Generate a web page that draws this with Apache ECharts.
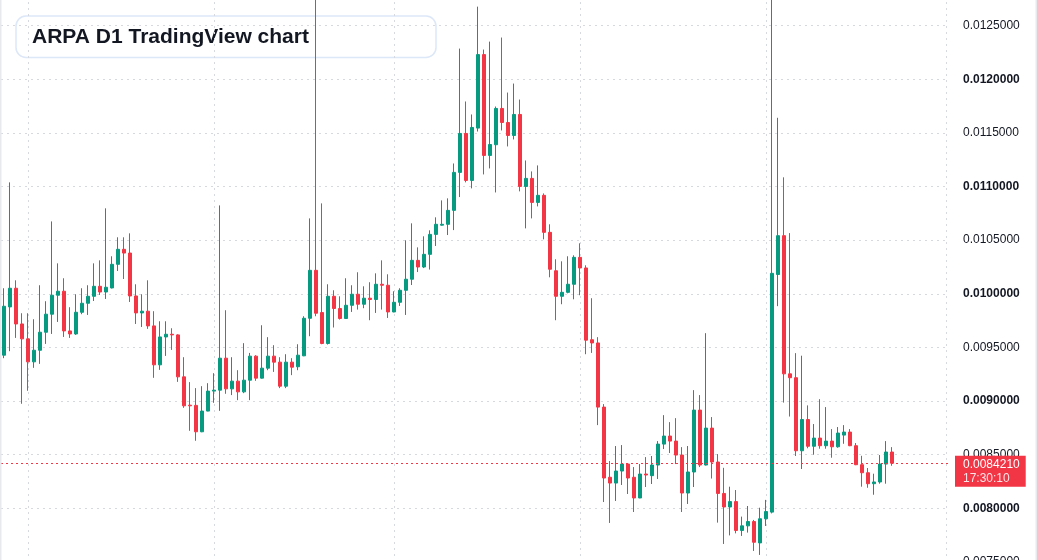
<!DOCTYPE html>
<html>
<head>
<meta charset="utf-8">
<title>ARPA D1 TradingView chart</title>
<script src="https://cdn.jsdelivr.net/npm/echarts@6/dist/echarts.min.js"></script>
<style>
  html, body { margin: 0; padding: 0; background: #ffffff; }
  #chart { width: 1037px; height: 560px; }
</style>
</head>
<body>
<div id="chart"></div>
<script>
// daily candles, first one on 2024-04-27; axis has a few empty days on the right
var startDate = '2024-04-27';
var dayCount = 158;

var opens = [
  0.009428, 0.009878, 0.010052, 0.009719, 0.009580, 0.009366, 0.009474, 0.009642, 0.009810, 0.009987,
  0.010024, 0.009654, 0.009626, 0.009828, 0.009912, 0.009977, 0.010070, 0.010017, 0.010055, 0.010275,
  0.010415, 0.010380, 0.009980, 0.009822, 0.009838, 0.009701, 0.009338, 0.009598, 0.009623, 0.009617,
  0.009226, 0.008962, 0.008960, 0.008714, 0.008907, 0.009093, 0.009102, 0.009400, 0.009114, 0.009186,
  0.009086, 0.009195, 0.009419, 0.009214, 0.009307, 0.009419, 0.009363, 0.009139, 0.009363, 0.009320,
  0.009422, 0.009772, 0.010219, 0.009825, 0.009537, 0.009977, 0.009863, 0.009770, 0.009893, 0.009996,
  0.009903, 0.009959, 0.009947, 0.010089, 0.010080, 0.009831, 0.009921, 0.010033, 0.010136, 0.010312,
  0.010250, 0.010368, 0.010554, 0.010640, 0.010648, 0.010778, 0.011132, 0.011495, 0.011057, 0.011545,
  0.012230, 0.011290, 0.011390, 0.011728, 0.011597, 0.011476, 0.011672, 0.011001, 0.011076, 0.010852,
  0.010918, 0.010573, 0.010215, 0.009977, 0.010014, 0.010089, 0.010340, 0.010241, 0.009572, 0.009542,
  0.008944, 0.008290, 0.008236, 0.008348, 0.008413, 0.008290, 0.008097, 0.008320, 0.008305, 0.008404,
  0.008599, 0.008674, 0.008627, 0.008497, 0.008143, 0.008339, 0.008916, 0.008404, 0.008748, 0.008432,
  0.008139, 0.008013, 0.008063, 0.007794, 0.007837, 0.007877, 0.007678, 0.007903, 0.007965, 0.010180,
  0.010542, 0.009254, 0.009218, 0.008537, 0.008828, 0.008579, 0.008655, 0.008584, 0.008627, 0.008574,
  0.008683, 0.008711, 0.008584, 0.008407, 0.008332, 0.008230, 0.008246, 0.008413, 0.008525
];

var closes = [
  0.009884, 0.010052, 0.009719, 0.009580, 0.009366, 0.009474, 0.009642, 0.009810, 0.009987, 0.010024,
  0.009654, 0.009626, 0.009828, 0.009912, 0.009977, 0.010070, 0.010017, 0.010061, 0.010275, 0.010415,
  0.010380, 0.009980, 0.009822, 0.009838, 0.009701, 0.009338, 0.009598, 0.009623, 0.009617, 0.009226,
  0.008956, 0.008956, 0.008714, 0.008907, 0.009093, 0.009102, 0.009400, 0.009114, 0.009186, 0.009086,
  0.009195, 0.009419, 0.009214, 0.009307, 0.009419, 0.009363, 0.009139, 0.009363, 0.009316, 0.009428,
  0.009772, 0.010219, 0.009819, 0.009537, 0.009977, 0.009863, 0.009770, 0.009893, 0.009996, 0.009903,
  0.009959, 0.009947, 0.010089, 0.010080, 0.009831, 0.009921, 0.010033, 0.010136, 0.010312, 0.010250,
  0.010368, 0.010554, 0.010648, 0.010648, 0.010778, 0.011132, 0.011495, 0.011057, 0.011551, 0.012230,
  0.011290, 0.011392, 0.011728, 0.011597, 0.011476, 0.011672, 0.011001, 0.011076, 0.010852, 0.010918,
  0.010573, 0.010229, 0.009977, 0.010014, 0.010089, 0.010340, 0.010241, 0.009568, 0.009542, 0.008944,
  0.008283, 0.008236, 0.008348, 0.008413, 0.008283, 0.008097, 0.008320, 0.008311, 0.008404, 0.008599,
  0.008674, 0.008627, 0.008497, 0.008143, 0.008339, 0.008916, 0.008404, 0.008748, 0.008432, 0.008139,
  0.008013, 0.008063, 0.007794, 0.007837, 0.007877, 0.007684, 0.007903, 0.007970, 0.010191, 0.010542,
  0.009254, 0.009218, 0.008537, 0.008828, 0.008579, 0.008655, 0.008584, 0.008627, 0.008574, 0.008702,
  0.008711, 0.008584, 0.008407, 0.008332, 0.008230, 0.008246, 0.008413, 0.008525, 0.008421
];

var lows = [
  0.009400, 0.009465, 0.009589, 0.008975, 0.009096, 0.009310, 0.009347, 0.009533, 0.009626, 0.009738,
  0.009598, 0.009589, 0.009617, 0.009810, 0.009803, 0.009933, 0.009989, 0.009952, 0.010050, 0.010213,
  0.010138, 0.009924, 0.009719, 0.009691, 0.009673, 0.009217, 0.009291, 0.009421, 0.009477, 0.009179,
  0.008937, 0.008723, 0.008630, 0.008710, 0.008905, 0.008984, 0.008909, 0.009068, 0.009056, 0.009009,
  0.009074, 0.009009, 0.009189, 0.009210, 0.009288, 0.009272, 0.009121, 0.009121, 0.009242, 0.009288,
  0.009419, 0.009605, 0.009791, 0.009530, 0.009527, 0.009686, 0.009760, 0.009765, 0.009831, 0.009853,
  0.009866, 0.009754, 0.009822, 0.009853, 0.009775, 0.009828, 0.009887, 0.009803, 0.010082, 0.010203,
  0.010240, 0.010226, 0.010446, 0.010635, 0.010548, 0.010594, 0.010902, 0.011039, 0.010983, 0.011513,
  0.011113, 0.011169, 0.010945, 0.011523, 0.011374, 0.011439, 0.010955, 0.010610, 0.010703, 0.010815,
  0.010508, 0.010154, 0.009754, 0.009903, 0.010005, 0.009949, 0.009987, 0.009437, 0.009449, 0.008776,
  0.008059, 0.007864, 0.008069, 0.008218, 0.008134, 0.007966, 0.008095, 0.008199, 0.008227, 0.008274,
  0.008553, 0.008516, 0.008413, 0.007966, 0.008041, 0.008199, 0.008385, 0.008400, 0.008278, 0.007867,
  0.007668, 0.007748, 0.007767, 0.007743, 0.007774, 0.007603, 0.007566, 0.007836, 0.007953, 0.009885,
  0.008986, 0.008856, 0.008488, 0.008367, 0.008560, 0.008500, 0.008556, 0.008556, 0.008472, 0.008565,
  0.008602, 0.008580, 0.008403, 0.008202, 0.008192, 0.008127, 0.008230, 0.008230, 0.008397
];

var highs = [
  0.010052, 0.011039, 0.010126, 0.009819, 0.009819, 0.009763, 0.010080, 0.009931, 0.010675, 0.010284,
  0.010145, 0.009875, 0.009996, 0.010052, 0.010080, 0.010284, 0.010312, 0.010797, 0.010350, 0.010527,
  0.010527, 0.010564, 0.010089, 0.009996, 0.010126, 0.009838, 0.009744, 0.009744, 0.009679, 0.009623,
  0.009409, 0.009177, 0.009121, 0.009139, 0.009167, 0.009260, 0.010824, 0.009847, 0.009409, 0.009288,
  0.009540, 0.009449, 0.009428, 0.009707, 0.009596, 0.009521, 0.009409, 0.009437, 0.009400, 0.009530,
  0.009791, 0.010703, 0.012950, 0.010843, 0.010089, 0.010033, 0.009977, 0.010145, 0.010080, 0.010201,
  0.010070, 0.010108, 0.010191, 0.010312, 0.010182, 0.010024, 0.010052, 0.010499, 0.010657, 0.010433,
  0.010536, 0.010592, 0.010713, 0.010871, 0.010890, 0.011215, 0.012286, 0.011793, 0.011672, 0.012677,
  0.012277, 0.012351, 0.011746, 0.012389, 0.011876, 0.011960, 0.011811, 0.011243, 0.011141, 0.011197,
  0.010936, 0.010648, 0.010322, 0.010303, 0.010350, 0.010359, 0.010471, 0.010266, 0.009959, 0.009596,
  0.008972, 0.008441, 0.008581, 0.008590, 0.008423, 0.008385, 0.008413, 0.008478, 0.008488, 0.008627,
  0.008869, 0.008804, 0.008841, 0.008571, 0.008581, 0.009102, 0.009056, 0.009633, 0.008851, 0.008506,
  0.008378, 0.008202, 0.008171, 0.007923, 0.008022, 0.007892, 0.008006, 0.008079, 0.012850, 0.011641,
  0.011086, 0.010566, 0.009447, 0.009423, 0.008960, 0.008786, 0.009018, 0.008944, 0.008739, 0.008758,
  0.008776, 0.008739, 0.008609, 0.008490, 0.008376, 0.008323, 0.008497, 0.008627, 0.008571
];

var countdown = '17:30:10';
var titleText = 'ARPA D1 TradingView chart';

var upColor = '#089981';
var downColor = '#f23645';
var gridColor = '#d6d9df';
var textColor = '#131722';
var fontFamily = '"Liberation Sans", Arial, sans-serif';

// build the day categories
var categories = [];
var d = new Date(startDate + 'T00:00:00Z');
for (var i = 0; i < dayCount; i++) {
  categories.push(d.toISOString().slice(0, 10));
  d.setUTCDate(d.getUTCDate() + 1);
}
var monthStarts = categories.filter(function(c) { return c.slice(8) === '01'; });

var candles = opens.map(function(o, i) {
  return [o, closes[i], lows[i], highs[i]];
});
var lastPrice = closes[closes.length - 1];

var chart = echarts.init(document.getElementById('chart'), null, { renderer: 'canvas' });

chart.setOption({
  animation: false,
  backgroundColor: '#ffffff',
  grid: { left: 1, right: 88, top: -28, bottom: -2, outerBoundsMode: 'none' },
  xAxis: {
    type: 'category',
    data: categories,
    boundaryGap: true,
    axisLine: { show: false },
    axisTick: { show: false },
    axisLabel: { show: false },
    splitLine: { show: false }
  },
  yAxis: {
    type: 'value',
    position: 'right',
    min: 0.0075,
    max: 0.013,
    interval: 0.0005,
    axisLine: { show: false },
    axisTick: { show: false },
    splitLine: { lineStyle: { color: gridColor, type: [2, 4], width: 1 } },
    axisLabel: {
      margin: 14,
      align: 'left',
      fontFamily: fontFamily,
      fontSize: 12,
      color: textColor,
      formatter: function(v) {
        var s = v.toFixed(7);
        return Math.round(v * 2000) % 2 === 0 ? '{b|' + s + '}' : '{n|' + s + '}';
      },
      rich: {
        b: { fontWeight: 'bold', fontSize: 12, fontFamily: fontFamily, color: textColor },
        n: { fontWeight: 'normal', fontSize: 12, fontFamily: fontFamily, color: textColor }
      }
    }
  },
  graphic: [
    { type: 'rect', x: 0, y: 0, shape: { x: 0, y: 0, width: 1.5, height: 560 }, style: { fill: '#e8e9ec' }, silent: true, z: 100 },
    { type: 'rect', x: 1035.5, y: 0, shape: { x: 0, y: 0, width: 1.5, height: 560 }, style: { fill: '#e8e9ec' }, silent: true, z: 100 },
    {
      type: 'group', x: 16, y: 16, z: 100, silent: true,
      children: [
        { type: 'rect', shape: { x: 0, y: 0, width: 420, height: 41.5, r: 10 },
          style: { fill: 'rgba(255,255,255,0.9)', stroke: '#dce7f7', lineWidth: 1.5 } },
        { type: 'text', x: 16, y: 21,
          style: { text: titleText, font: 'bold 21px ' + fontFamily, fill: textColor, verticalAlign: 'middle' } }
      ]
    }
  ],
  series: [
    {
      // monthly vertical grid lines, kept under the candles
      type: 'line',
      data: [],
      silent: true,
      z: 1,
      markLine: {
        silent: true,
        z: 1,
        animation: false,
        symbol: ['none', 'none'],
        label: { show: false },
        lineStyle: { color: gridColor, type: [2, 4], width: 1 },
        data: monthStarts.map(function(m) { return { xAxis: m }; })
      }
    },
    {
      type: 'candlestick',
      data: candles,
      barWidth: 4,
      z: 2,
      itemStyle: {
        color: upColor,
        color0: downColor,
        borderColor: upColor,
        borderColor0: downColor,
        borderWidth: 1
      }
    },
    {
      // last price line with its tag on the price scale
      type: 'line',
      data: [],
      silent: true,
      z: 3,
      markLine: {
        silent: true,
        animation: false,
        precision: 7,
        symbol: ['none', 'none'],
        lineStyle: { color: downColor, type: [2, 3], width: 1 },
        label: {
          show: true,
          position: 'end',
          distance: 6,
          offset: [0, 8],
          backgroundColor: downColor,
          padding: [2, 6, 1, 8],
          formatter: function() {
            return '{p|' + lastPrice.toFixed(7) + '}\n{t|' + countdown + '}';
          },
          rich: {
            p: { color: '#ffffff', fontSize: 12, lineHeight: 14, fontFamily: fontFamily },
            t: { color: '#fde3e6', fontSize: 12, lineHeight: 14, fontFamily: fontFamily }
          }
        },
        data: [{ yAxis: lastPrice }]
      }
    }
  ]
});

window.addEventListener('resize', function() {
  chart.resize();
});
</script>
</body>
</html>
